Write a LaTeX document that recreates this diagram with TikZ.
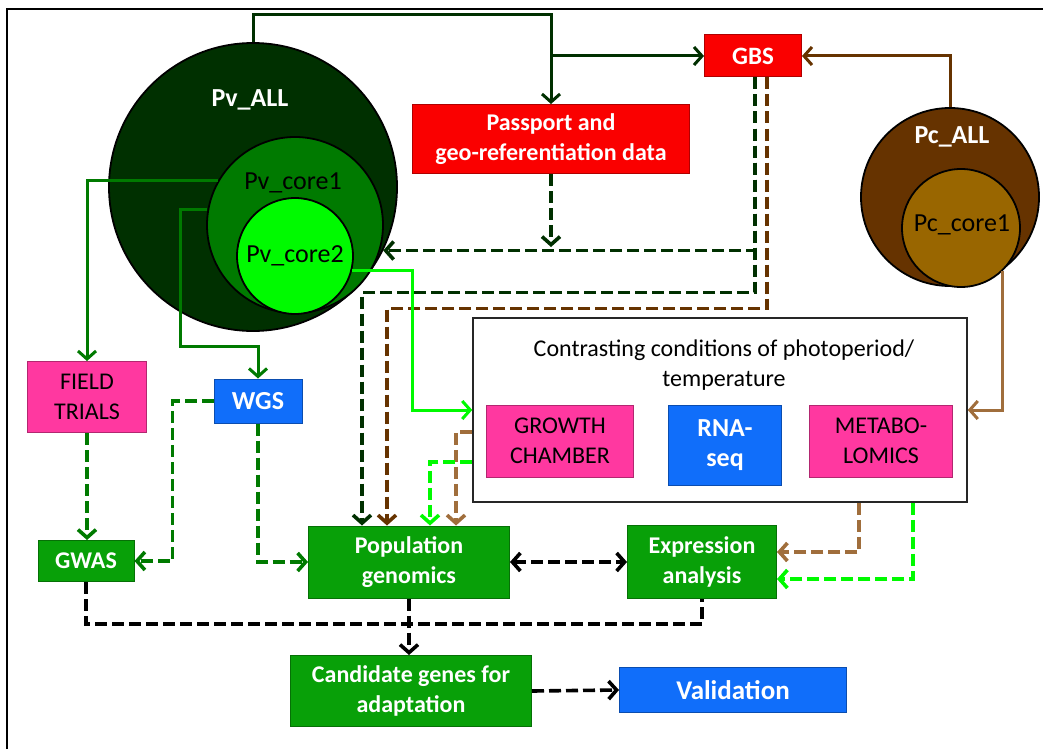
\documentclass[tikz,border=0pt]{standalone}
\usepackage{fontspec}
\setmainfont{Carlito}
\usetikzlibrary{arrows.meta}
\definecolor{pvdark}{RGB}{0,48,0}
\definecolor{pvmid}{RGB}{0,122,0}
\definecolor{pvlight}{RGB}{0,250,0}
\definecolor{pcdark}{RGB}{102,51,0}
\definecolor{pclight}{RGB}{153,102,0}
\definecolor{pctan}{RGB}{160,110,60}
\definecolor{boxgreen}{RGB}{8,160,8}
\definecolor{boxred}{RGB}{250,0,0}
\definecolor{boxpink}{RGB}{255,56,160}
\definecolor{boxblue}{RGB}{16,110,250}
\begin{document}
\begin{tikzpicture}[x=1pt,y=-1pt,
    every node/.style={inner sep=0pt,align=center},
    >={Straight Barb[length=8pt,width=18pt]},
    ring/.style={circle,draw=black,line width=1.8pt},
    block/.style={rectangle,fill=#1,draw=#1!70!black,line width=1pt},
    txt/.style={font=\fontsize{24}{30}\selectfont},
    btxt/.style={font=\bfseries\fontsize{24}{30}\selectfont,text=white},
    bigtxt/.style={font=\bfseries\fontsize{26}{30}\selectfont,text=white},
    conn/.style={line width=3pt,->},
    dconn/.style={line width=3.6pt,dash pattern=on 12pt off 5pt,->}]
        \useasboundingbox (0,0) rectangle (1043,749);
        \draw[line width=2.5pt] (7,749) -- (7,9) -- (1043,9);

        \node[ring,fill=pvdark,minimum size=288pt] (pvall) at (253,187) {};
        \node[ring,fill=pvmid,minimum size=176pt] (pvcore1) at (295,225) {};
        \node[ring,fill=pvlight,minimum size=116pt] (pvcore2) at (295,256) {};
        \node[ring,fill=pcdark,minimum size=178pt] (pcall) at (950,197) {};
        \node[ring,fill=pclight,minimum size=118pt] (pccore1) at (961,228) {};

        \node[bigtxt] (pvalllab) at (250,100) {Pv\_ALL};
        \node[txt,font=\fontsize{26}{30}\selectfont] (pvcore1lab) at (293,183) {Pv\_core1};
        \node[txt,font=\fontsize{26}{30}\selectfont] (pvcore2lab) at (295,256) {Pv\_core2};
        \node[bigtxt] (pcalllab) at (952,137) {Pc\_ALL};
        \node[txt,font=\fontsize{26}{30}\selectfont] (pccore1lab) at (962,225) {Pc\_core1};

        \node[block=boxred,minimum width=97pt,minimum height=42pt,btxt,font=\bfseries\fontsize{25}{30}\selectfont] (gbs) at (753,56) {GBS};
        \node[block=boxred,minimum width=277pt,minimum height=69pt,btxt] (passport) at (551,139) {Passport and\\geo-referentiation data};
        \node[draw=black!85,line width=1.5pt,minimum width=494pt,minimum height=184pt] (contrast) at (720,410) {};
        \node[txt] (contrastlab) at (724,365) {Contrasting conditions of photoperiod/\\temperature};
        \node[block=boxpink,minimum width=147pt,minimum height=72pt,txt] (growth) at (560,441) {GROWTH\\CHAMBER};
        \node[block=boxblue,minimum width=113pt,minimum height=80pt,bigtxt] (rnaseq) at (725,445) {RNA-\\seq};
        \node[block=boxpink,minimum width=143pt,minimum height=72pt,txt] (metabo) at (881,441) {METABO-\\LOMICS};
        \node[block=boxpink,minimum width=119pt,minimum height=71pt,txt] (field) at (87,397) {FIELD\\TRIALS};
        \node[block=boxblue,minimum width=88pt,minimum height=44pt,bigtxt] (wgs) at (258,401) {WGS};
        \node[block=boxgreen,minimum width=96pt,minimum height=41pt,btxt] (gwas) at (86,561) {GWAS};
        \node[block=boxgreen,minimum width=201pt,minimum height=72pt,btxt] (popgen) at (409,562) {Population\\genomics};
        \node[block=boxgreen,minimum width=149pt,minimum height=73pt,btxt] (expr) at (702,562) {Expression\\analysis};
        \node[block=boxgreen,minimum width=241pt,minimum height=71pt,btxt] (cand) at (411,691) {Candidate genes for\\adaptation};
        \node[block=boxblue,minimum width=227pt,minimum height=45pt,bigtxt,font=\bfseries\fontsize{27}{30}\selectfont] (valid) at (733,690) {Validation};

        \draw[conn,pvdark] (pvall.north) -- ++(0,-28) -| (passport.north);
        \draw[conn,pvdark] (gbs.west -| passport.north) -- (gbs.west);
        \draw[dconn,pvdark] ([xshift=2pt]gbs.south) |- (pvall.-26);
        \draw[dconn,pvdark] (passport.south) -- ++(0,73);
        \draw[dconn,pvdark] ([xshift=2pt]gbs.south) -- ++(0,215) -| ([xshift=-47pt]popgen.north);
        \draw[dconn,pcdark] ([xshift=14pt]gbs.south) -- ++(0,231) -| ([xshift=-22pt]popgen.north);
        \draw[conn,pcdark] (pcall.north) |- (gbs.east);
        \draw[conn,pctan] (pccore1.-46) |- (contrast.east);
        \draw[conn,pvlight] (pvcore2.-14) -| ([xshift=-60pt]contrast.west) -- (contrast.west);
        \draw[conn,pvmid] (pvcore1.150) -| (field.north);
        \draw[conn,pvmid] (pvcore1.170) -- ++(-27,0) -- ++(0,137) -| (wgs.north);

        \draw[dconn,pvmid] (field.south) -- (field.south |- gwas.north);
        \draw[dconn,pvmid] (wgs.west) -- ++(-41,0) |- (gwas.east);
        \draw[dconn,pvmid] (wgs.south) |- (popgen.west);
        \draw[dconn,pctan] ([yshift=-22pt]contrast.west) -| ([xshift=47pt]popgen.north);
        \draw[dconn,pvlight] ([yshift=-52pt]contrast.west) -| ([xshift=21pt]popgen.north);
        \draw[dconn,pctan] ([xshift=139pt]contrast.south) |- ([yshift=10pt]expr.east);
        \draw[dconn,pvlight] ([xshift=193pt]contrast.south) |- ([yshift=-17pt]expr.east);

        \draw[dconn,black,<->] (popgen.east) -- (expr.west);
        \draw[dconn,black,-] (gwas.south) -- ++(0,42) -| (expr.south);
        \draw[dconn,black] (popgen.south) -- (popgen.south |- cand.north);
        \draw[dconn,black] (cand.east) -- (valid.west);
      \end{tikzpicture}
\end{document}
